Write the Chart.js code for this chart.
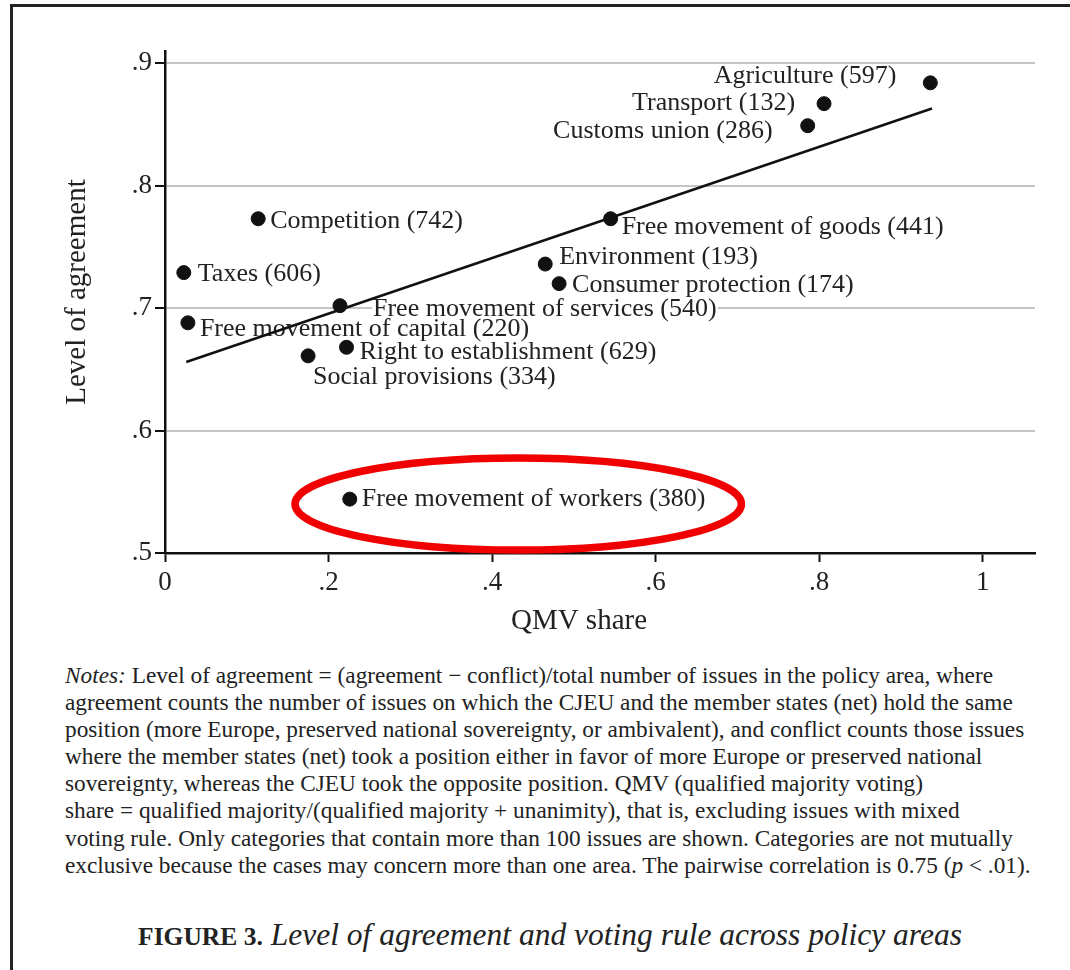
<!DOCTYPE html>
<html>
<head>
<meta charset="utf-8">
<script src="https://cdn.jsdelivr.net/npm/chart.js@4.4.1/dist/chart.umd.min.js"></script>
<style>
  html, body { margin: 0; padding: 0; background: #fff; }
  body { width: 1070px; height: 970px; position: relative; overflow: hidden; font-family: "Liberation Serif", "Times New Roman", serif; color: #222; }
  #frame { position: absolute; left: 10px; top: 4px; width: 1070px; height: 980px; border-top: 3px solid #222; border-left: 3px solid #222; }
  #wrap { position: absolute; left: 0; top: 0; width: 1070px; height: 650px; }
  .note { position: absolute; left: 65px; font-size: 23.3px; white-space: nowrap; line-height: 27px; }
  #caption { position: absolute; left: 0; width: 1100px; top: 917px; text-align: center; white-space: nowrap; }
  #caption b { font-size: 25.5px; }
  #caption i { font-size: 31.5px; }
</style>
</head>
<body>
<div id="frame"></div>
<div id="wrap"><canvas id="myChart" width="1070" height="650"></canvas></div>

<div class="note" style="top:662px"><i>Notes:</i> Level of agreement = (agreement &minus; conflict)/total number of issues in the policy area, where</div>
<div class="note" style="top:689px">agreement counts the number of issues on which the CJEU and the member states (net) hold the same</div>
<div class="note" style="top:716px">position (more Europe, preserved national sovereignty, or ambivalent), and conflict counts those issues</div>
<div class="note" style="top:743px">where the member states (net) took a position either in favor of more Europe or preserved national</div>
<div class="note" style="top:770px">sovereignty, whereas the CJEU took the opposite position. QMV (qualified majority voting)</div>
<div class="note" style="top:797px">share = qualified majority/(qualified majority + unanimity), that is, excluding issues with mixed</div>
<div class="note" style="top:825px">voting rule. Only categories that contain more than 100 issues are shown. Categories are not mutually</div>
<div class="note" style="top:852px">exclusive because the cases may concern more than one area. The pairwise correlation is 0.75 (<i>p</i> &lt; .01).</div>

<div id="caption"><b>FIGURE 3.</b>&nbsp; <i>Level of agreement and voting rule across policy areas</i></div>

<script>
// policy areas and their number of issues
var areas = ["Agriculture", "Transport", "Customs union", "Competition", "Free movement of goods",
    "Environment", "Consumer protection", "Taxes", "Free movement of services",
    "Free movement of capital", "Right to establishment", "Social provisions", "Free movement of workers"];
var issues = [597, 132, 286, 742, 441, 193, 174, 606, 540, 220, 629, 334, 380];
// x: QMV share, y: level of agreement
var qmvShare = [0.936, 0.806, 0.786, 0.114, 0.545, 0.465, 0.482, 0.023, 0.214, 0.028, 0.222, 0.175, 0.226];
var agreement = [0.884, 0.867, 0.849, 0.773, 0.773, 0.736, 0.720, 0.729, 0.702, 0.688, 0.668, 0.661, 0.544];
// fitted line end points
var fitX = [0.026, 0.938];
var fitY = [0.656, 0.863];
var xTicks = [0, 0.2, 0.4, 0.6, 0.8, 1];
var yTicks = [0.5, 0.6, 0.7, 0.8, 0.9];
var xTitle = 'QMV share';
var yTitle = 'Level of agreement';

// where each label sits relative to its dot (pixels), 'r' = text ends left of dot
var labelPlace = [
    ['r', -34, -7], ['r', -29, 0], ['r', -35, 5], ['l', 12, 2], ['l', 11, 8],
    ['l', 14, -7], ['l', 13, 2], ['l', 14, 2], ['l', 33, 3], ['l', 12, 6],
    ['l', 13, 5], ['l', 5, 21], ['l', 12, 0]
];
// highlighted point (data units)
var ring = { x: 0.432, y: 0.54, rx: 0.273, ry: 0.0376 };

var pts = qmvShare.map(function (v, i) { return { x: v, y: agreement[i] }; });
var fit = fitX.map(function (v, i) { return { x: v, y: fitY[i] }; });

var labelFont = '26px "Liberation Serif", serif';
var titleFont = '29px "Liberation Serif", serif';

var pointLabels = {
    id: 'pointLabels',
    afterDatasetDraw: function (chart, args) {
        if (args.index !== 0) return;
        var ctx = chart.ctx;
        var meta = chart.getDatasetMeta(0);
        ctx.save();
        ctx.font = labelFont;
        ctx.textBaseline = 'middle';
        meta.data.forEach(function (el, i) {
            var txt = areas[i] + ' (' + issues[i] + ')';
            var p = labelPlace[i];
            var w = ctx.measureText(txt).width;
            var x = el.x + p[1];
            var y = el.y + p[2];
            var left = p[0] === 'r' ? x - w : x;
            ctx.fillStyle = '#fff';
            ctx.fillRect(left - 1, y - 9, w + 2, 18);
            ctx.fillStyle = '#222';
            ctx.textAlign = 'left';
            ctx.fillText(txt, left, y);
        });
        ctx.restore();
    },
    afterDraw: function (chart) {
        var ctx = chart.ctx;
        var xs = chart.scales.x, ys = chart.scales.y;
        var area = chart.chartArea;

        // axis titles
        ctx.save();
        ctx.font = titleFont;
        ctx.fillStyle = '#222';
        ctx.textAlign = 'center';
        ctx.textBaseline = 'middle';
        ctx.fillText(xTitle, area.left + 414, area.bottom + 68);
        ctx.translate(77, area.top + 241);
        ctx.rotate(-Math.PI / 2);
        ctx.fillText(yTitle, 0, 0);
        ctx.restore();

        // red ring
        var cx = xs.getPixelForValue(ring.x), cy = ys.getPixelForValue(ring.y);
        var rx = xs.getPixelForValue(ring.x + ring.rx) - cx;
        var ry = ys.getPixelForValue(ring.y - ring.ry) - cy;
        ctx.save();
        ctx.strokeStyle = '#f00000';
        ctx.lineWidth = 7.5;
        ctx.beginPath();
        ctx.ellipse(cx, cy, rx, ry, 0, 0, Math.PI * 2);
        ctx.stroke();
        ctx.restore();
    }
};

function fmt(v) {
    if (v === 0) return '0';
    if (v === 1) return '1';
    return v.toFixed(1).replace('0.', '.');
}

var ctx = document.getElementById('myChart').getContext('2d');
var chart = new Chart(ctx, {
    type: 'scatter',
    data: {
        datasets: [{
            data: pts,
            backgroundColor: '#111',
            borderColor: '#111',
            pointRadius: 7,
            order: 2
        }, {
            type: 'line',
            data: fit,
            borderColor: '#111',
            borderWidth: 2.5,
            pointRadius: 0,
            fill: false,
            order: 1
        }]
    },
    options: {
        responsive: false,
        animation: false,
        devicePixelRatio: 1,
        layout: { padding: { left: 0, right: 35, top: 51, bottom: 0 } },
        plugins: { legend: { display: false }, tooltip: { enabled: false } },
        scales: {
            x: {
                type: 'linear', min: 0, max: 1.064,
                afterBuildTicks: function (s) { s.ticks = xTicks.map(function (v) { return { value: v }; }); },
                afterFit: function (s) { s.height = 97; },
                border: { color: '#111', width: 2.5 },
                grid: { drawOnChartArea: false, tickLength: 9, tickColor: '#111', tickWidth: 2 },
                ticks: { callback: fmt, color: '#222', padding: 5, maxRotation: 0, font: { family: 'Liberation Serif', size: 27 } }
            },
            y: {
                type: 'linear', min: 0.5, max: 0.91,
                afterBuildTicks: function (s) { s.ticks = yTicks.map(function (v) { return { value: v }; }); },
                afterFit: function (s) { s.width = 165; },
                border: { color: '#111', width: 2.5 },
                grid: { color: '#c4c4c4', lineWidth: 2, tickLength: 10, tickColor: '#111', tickWidth: 2 },
                ticks: { callback: fmt, color: '#222', padding: 3, font: { family: 'Liberation Serif', size: 27 } }
            }
        }
    },
    plugins: [pointLabels]
});
</script>
</body>
</html>
